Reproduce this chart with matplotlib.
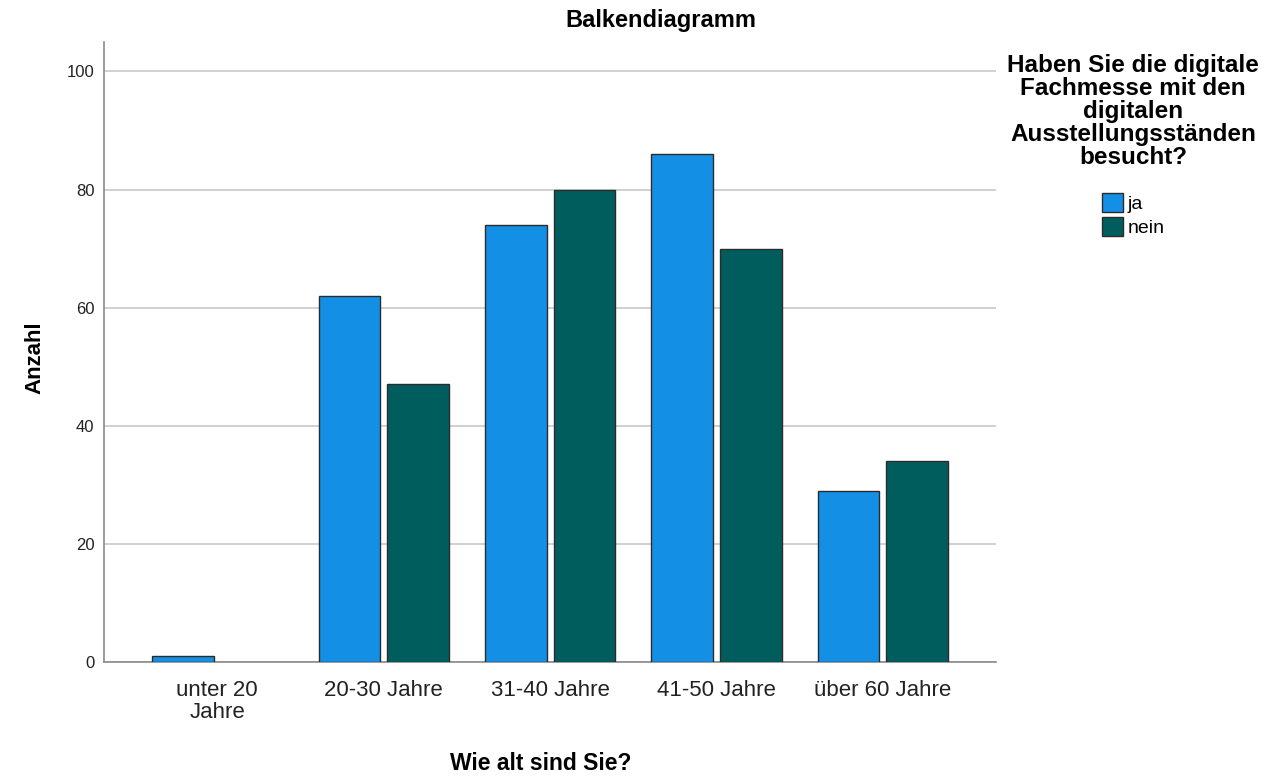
import matplotlib
matplotlib.use("Agg")
import matplotlib.pyplot as plt
import numpy as np

categories=["unter 20\nJahre","20-30 Jahre","31-40 Jahre","41-50 Jahre","über 60 Jahre"]
ja=[1,62,74,86,29]
nein=[0,47,80,70,34]
series_labels=["ja","nein"]
yticks=[0,20,40,60,80,100]
legend_title="Haben Sie die digitale\nFachmesse mit den\ndigitalen\nAusstellungsständen\nbesucht?"

plt.rcParams['font.family']=['Liberation Sans','DejaVu Sans']

fig=plt.figure(figsize=(12.69,7.77),dpi=100)
ax=fig.add_axes([0.082,0.148,0.703,0.798])

x=np.arange(len(categories))
w=0.37
off=0.206
ax.bar(x-off,ja,w,color="#1390e6",edgecolor="#2b2b2b",
    linewidth=[1.0 if v>0 else 0 for v in ja],label=series_labels[0],zorder=3)
ax.bar(x+off,nein,w,color="#005d5d",edgecolor="#2b2b2b",
    linewidth=[1.0 if v>0 else 0 for v in nein],label=series_labels[1],zorder=3)

ax.set_xlim(-0.68,4.68)
ax.set_ylim(0,105)
ax.set_yticks(yticks)
ax.set_xticks(x)
ax.set_xticklabels(categories,fontsize=16,color="#222222",linespacing=1.05)
ax.tick_params(axis="y",labelsize=12,colors="#222222",length=0,pad=7)
ax.tick_params(axis="x",length=0,pad=13)
ax.yaxis.grid(True,color="#c8c8c8",linewidth=1.2,zorder=0)
ax.set_axisbelow(True)
for s in ["top","right"]:
    ax.spines[s].set_visible(False)
for s in ["left","bottom"]:
    ax.spines[s].set_color("#8a8a8a")
    ax.spines[s].set_linewidth(1.2)

ax.set_ylabel("Anzahl",fontsize=16,fontweight="bold")
ax.yaxis.set_label_coords(-0.0775,0.49)
ax.yaxis.label.set_va("center")
ax.set_xlabel("Wie alt sind Sie?",fontsize=16.5,fontweight="bold")
ax.xaxis.set_label_coords(0.49,-0.163)
ax.xaxis.label.set_va("center")
fig.text(0.521,0.974,"Balkendiagramm",ha="center",va="center",fontsize=17,fontweight="bold")

# legend title drawn separately (SPSS leaves a bigger gap before the entries)
fig.text(0.893,0.931,legend_title,ha="center",va="top",fontsize=17.5,fontweight="bold",
    linespacing=1.0,multialignment="center")
leg=fig.legend(loc="upper center",bbox_to_anchor=(0.893,0.764),frameon=False,fontsize=14,
    borderpad=0,handlelength=1.1,handleheight=1.1,handletextpad=0.2,labelspacing=0.22)
for h in leg.legend_handles:
    h.set_linewidth(1.0)

fig.savefig("out.png",dpi=100)
